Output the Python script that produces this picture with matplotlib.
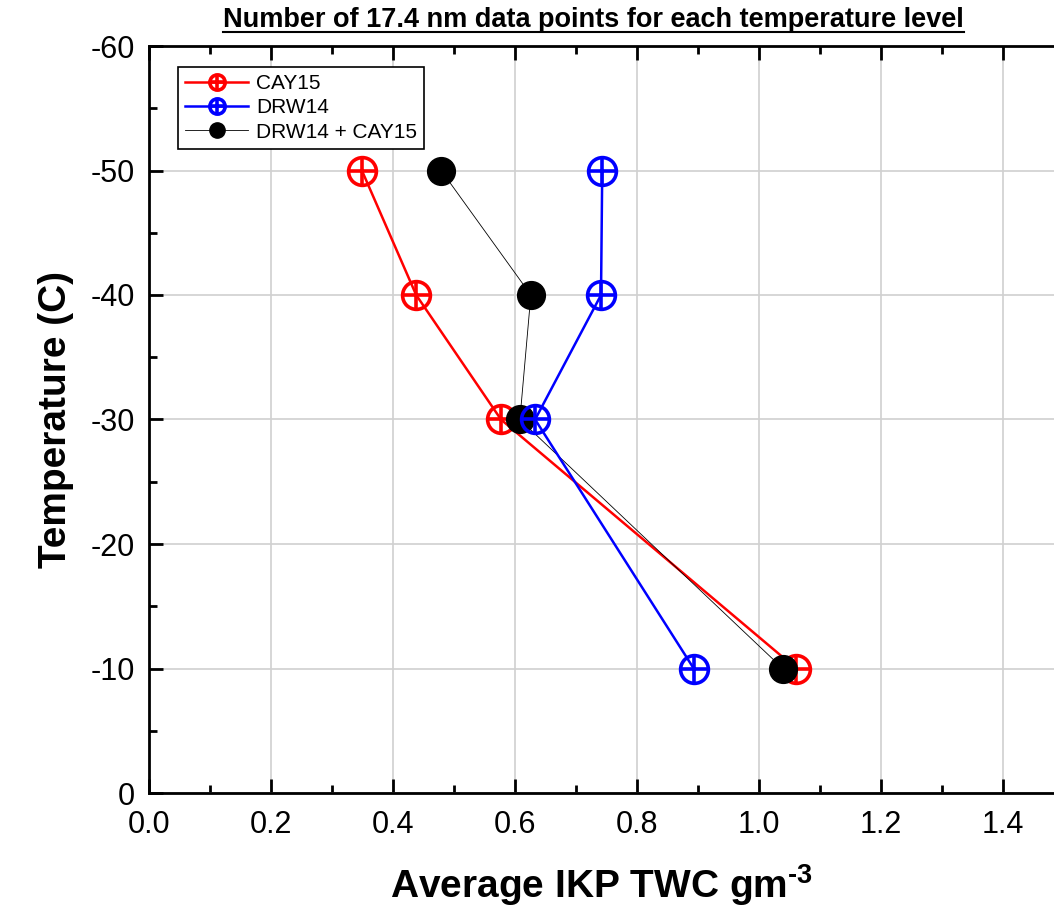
import matplotlib
matplotlib.use("Agg")
import matplotlib.pyplot as plt
from matplotlib.lines import Line2D
from matplotlib.legend_handler import HandlerTuple
from matplotlib.ticker import MultipleLocator, FormatStrFormatter

plt.rcParams['font.family'] = ['Liberation Sans', 'DejaVu Sans']
plt.rcParams['axes.unicode_minus'] = False
plt.rcParams['mathtext.fontset'] = 'custom'
plt.rcParams['mathtext.rm'] = 'Liberation Sans:bold'
plt.rcParams['mathtext.bf'] = 'Liberation Sans:bold'

# temperature levels (C)
temps = [-50, -40, -30, -10]
# average IKP TWC (g m^-3)
cay15 = [0.349, 0.438, 0.577, 1.061]
drw14 = [0.743, 0.741, 0.633, 0.893]
both = [0.479, 0.626, 0.608, 1.039]

fig = plt.figure(figsize=(10.54, 9.21), dpi=100)
ax = fig.add_axes([149 / 1054, 128 / 921, (1054 - 149) / 1054, (793 - 46) / 921])

# red: CAY15
l1, = ax.plot(cay15, temps, color='red', lw=1.8, marker='o', ms=20,
              mfc='none', mec='red', mew=2.6, zorder=3)
p1, = ax.plot(cay15, temps, ls='none', marker='+', ms=20, mec='red', mew=2.6, zorder=3)
# black: combined
l3, = ax.plot(both, temps, color='black', lw=0.6, marker='o', ms=20,
              mfc='black', mec='black', zorder=4)
# blue: DRW14
l2, = ax.plot(drw14, temps, color='blue', lw=1.8, marker='o', ms=20,
              mfc='none', mec='blue', mew=2.6, zorder=5)
p2, = ax.plot(drw14, temps, ls='none', marker='+', ms=20, mec='blue', mew=2.6, zorder=5)

ax.set_xlim(0, 1.4836)
ax.set_ylim(0, -60)
ax.xaxis.set_major_locator(MultipleLocator(0.2))
ax.xaxis.set_minor_locator(MultipleLocator(0.1))
ax.yaxis.set_major_locator(MultipleLocator(10))
ax.yaxis.set_minor_locator(MultipleLocator(5))
ax.xaxis.set_major_formatter(FormatStrFormatter('%.1f'))
ax.grid(True, which='major', color='#d0d0d0', lw=1.2)
ax.set_axisbelow(True)
ax.tick_params(which='major', direction='in', length=10, width=2, labelsize=22,
               top=True)
ax.tick_params(which='minor', direction='in', length=6, width=2, top=True)
ax.tick_params(axis='x', pad=12)
ax.tick_params(axis='y', pad=10)
for s in ['left', 'bottom', 'top']:
    ax.spines[s].set_linewidth(2)
ax.spines['right'].set_visible(False)

ax.set_xlabel('Average IKP TWC gm$^{\\text{-3}}$', fontsize=28, fontweight='bold', labelpad=16)
ax.set_ylabel('Temperature (C)', fontsize=28, fontweight='bold', labelpad=12)

leg = ax.legend([(l1, p1), (l2, p2), l3], ['CAY15', 'DRW14', 'DRW14 + CAY15'],
                handler_map={tuple: HandlerTuple(ndivide=1, pad=0)},
                loc='upper left', bbox_to_anchor=(0.032, 0.972), borderaxespad=0,
                fontsize=15, frameon=True, fancybox=False, edgecolor='black',
                markerscale=0.55, handlelength=3.0, handletextpad=0.4,
                borderpad=0.35, labelspacing=0.25, framealpha=1)
leg.get_frame().set_linewidth(1.2)

t = fig.text(0.563, 0.978, 'Number of 17.4 nm data points for each temperature level',
             ha='center', va='center', fontsize=19.5, fontweight='bold')
fig.canvas.draw()
bb = t.get_window_extent().transformed(fig.transFigure.inverted())
fig.add_artist(Line2D([bb.x0, bb.x1], [bb.y0 + 0.001, bb.y0 + 0.001],
                      transform=fig.transFigure, color='black', lw=1.5))

fig.savefig('out.png', dpi=100)
